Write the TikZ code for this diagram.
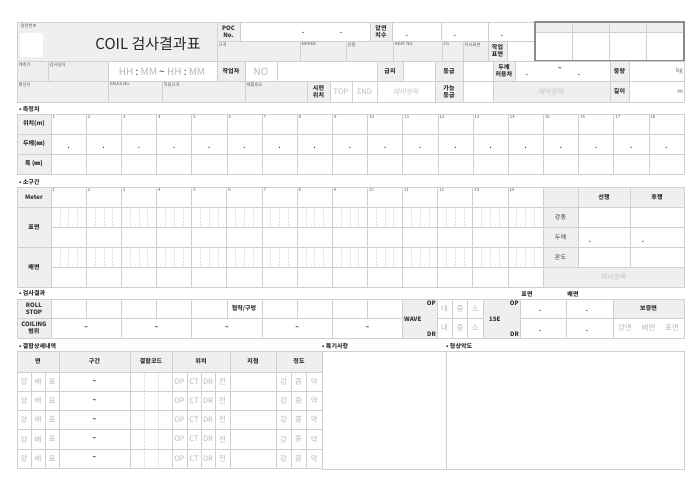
\documentclass[tikz,border=0pt]{standalone}
\usepackage{fontspec}
\setmainfont{Noto Sans CJK KR}
\newfontfamily\slkr[FakeSlant=0.2]{Noto Sans CJK KR}
\definecolor{ln}{HTML}{D0D0D0}
\definecolor{lnl}{HTML}{E2E2E2}
\definecolor{gf}{HTML}{EFEFEF}
\definecolor{dk}{HTML}{333333}
\definecolor{lt}{HTML}{B8B8B8}
\definecolor{bx}{HTML}{8A8A8A}
\newcounter{nn}
\newcommand\G[4]{\fill[gf] (#1,#2) rectangle (#3,#4);}
\newcommand\R[4]{\draw[ln,line width=0.6pt] (#1,#2) rectangle (#3,#4);}
\newcommand\GR[4]{\G{#1}{#2}{#3}{#4}\R{#1}{#2}{#3}{#4}}
\newcommand\T[4][]{\stepcounter{nn}\node[tx,#1] (n\arabic{nn}) at ({#2},{#3}) {#4};}
\newcommand\lbl[3]{\T[anchor=north west,font=\fontsize{4.3}{5}\selectfont,text=black!65]{#1+1.5}{#2+1.5}{#3}}
\tikzset{
  tx/.style={inner sep=0pt,text=dk,align=center,font=\fontsize{6}{7}\selectfont},
  bl/.style={font=\bfseries\fontsize{6}{7}\selectfont},
  lightt/.style={text=lt,font=\fontsize{7.5}{8}\selectfont},
  sl/.style={text=lt!80,font=\slkr\fontsize{7}{8}\selectfont},
  sec/.style={anchor=west,font=\bfseries\fontsize{6}{7}\selectfont},
  dotl/.style={lnl,line width=0.4pt,densely dotted}
}
\begin{document}
\begin{tikzpicture}[x=1pt,y=-1pt]
\useasboundingbox (0,0) rectangle (700,495);
\fill[white] (0,0) rectangle (700,495);
% ---------- header row 1/2
\G{17}{22}{217}{61}
\fill[white] (20,33) rectangle (43,57);
\R{17}{22}{217}{61}
\GR{217}{22}{240}{41}
\R{240}{22}{370}{41}
\GR{370}{22}{392}{41}
\R{392}{22}{441}{41}\R{441}{22}{488}{41}\R{488}{22}{535}{41}
\GR{217}{41}{300}{61}\GR{300}{41}{346}{61}\GR{346}{41}{393}{61}\GR{393}{41}{442}{61}
\GR{442}{41}{463}{61}\GR{463}{41}{488}{61}\GR{488}{41}{507}{61}\R{507}{41}{535}{61}
% right box
\G{535}{22}{684}{32}
\draw[ln,line width=0.6pt] (535,32) -- (684,32);
\foreach \xx in {572,609,646} {\draw[ln,line width=0.6pt] (\xx,22) -- (\xx,61);}
\draw[bx,line width=1.1pt] (535,22) rectangle (684,61);
% row 3
\GR{17}{61}{48}{81}\GR{48}{61}{108}{81}\R{108}{61}{217}{81}\GR{217}{61}{245}{81}
\R{245}{61}{277}{81}\R{277}{61}{377}{81}\GR{377}{61}{403}{81}\R{403}{61}{435}{81}
\GR{435}{61}{463}{81}\R{463}{61}{493}{81}\GR{493}{61}{515}{81}\R{515}{61}{610}{81}
\GR{610}{61}{629}{81}\R{629}{61}{684}{81}
% row 4
\GR{17}{81}{108}{102}\GR{108}{81}{162}{102}\GR{162}{81}{245}{102}\GR{245}{81}{307}{102}
\GR{307}{81}{330}{102}\R{330}{81}{352}{102}\R{352}{81}{377}{102}\R{377}{81}{435}{102}
\GR{435}{81}{463}{102}\R{463}{81}{493}{102}\GR{493}{81}{610}{102}\GR{610}{81}{629}{102}
\R{629}{81}{684}{102}
% header texts
\lbl{19}{22}{일련번호}
\T[font=\fontsize{15}{18}\selectfont,text=black!85]{148}{44}{COIL 검사결과표}
\T[bl]{228.5}{31.5}{POC\\No.}
\T[bl]{303}{33}{-}\T[bl]{341}{33}{-}
\T[bl]{381}{31.5}{압연\\치수}
\T[bl]{407}{36}{.}\T[bl]{455}{36}{.}\T[bl]{502}{36}{.}
\lbl{217}{41}{규격}\lbl{300}{41}{MAKER}\lbl{346}{41}{강종}\lbl{393}{41}{HEAT NO.}
\lbl{442}{41}{CG}\lbl{463}{41}{지시표면}
\T[bl]{497.5}{51}{작업\\표면}
\lbl{17}{61}{계측기}\lbl{48}{61}{검사일자}
\T[text=lt,font=\fontsize{10}{12}\selectfont]{162}{71.5}{HH \textcolor{dk}{:} MM \textcolor{dk}{\textasciitilde} HH \textcolor{dk}{:} MM}
\T[bl]{231}{71}{작업자}
\T[text=lt,font=\fontsize{10}{12}\selectfont]{261}{71.5}{NO}
\T[bl]{390}{71}{급지}
\T[bl]{449}{71}{등급}
\T[bl]{504}{71}{두께\\허용차}
\T[bl]{527}{75}{.}\T[bl]{560}{69}{\textasciitilde}\T[bl]{579}{75}{.}
\T[bl]{619.5}{71}{중량}
\T[anchor=east,text=black!60]{683}{71}{kg}
\lbl{17}{81}{행선지}\lbl{108}{81}{SALES No.}\lbl{162}{81}{적용규격}\lbl{245}{81}{제품용도}
\T[bl]{318.5}{91.5}{시편\\위치}
\T[lightt]{341}{91.5}{TOP}\T[lightt]{364.5}{91.5}{END}
\T[sl]{406}{91.5}{예비항목}
\T[bl]{449}{91.5}{가능\\등급}
\T[sl]{551}{91.5}{예비항목}
\T[bl]{619.5}{91.5}{길이}
\T[anchor=east,text=black!60]{683}{91.5}{m}
% ---------- 측정치
\T[sec]{19}{109}{• 측정치}
\GR{17}{114}{51}{134}\GR{17}{134}{51}{154}\GR{17}{154}{51}{174}
\T[bl]{34}{124}{위치(m)}\T[bl]{34}{144}{두께(㎜)}\T[bl]{34}{164}{폭 (㎜)}
\foreach \i in {0,...,17} {
  \pgfmathsetmacro\xa{51+35.1667*\i}
  \pgfmathsetmacro\xb{\xa+35.1667}
  \pgfmathtruncatemacro\k{\i+1}
  \R{\xa}{114}{\xb}{134}\R{\xa}{134}{\xb}{154}\R{\xa}{154}{\xb}{174}
  \lbl{\xa}{114}{\k}
  \T[bl]{\xa+17.6}{148}{.}
}
% ---------- 소구간
\T[sec]{19}{182}{• 소구간}
\GR{17}{187}{51}{207}\GR{17}{207}{51}{247}\GR{17}{247}{51}{287}
\T[bl]{34}{197}{Meter}\T[bl]{34}{227}{표면}\T[bl]{34}{267}{배면}
\foreach \i in {0,...,13} {
  \pgfmathsetmacro\xa{51+35.1429*\i}
  \pgfmathsetmacro\xb{\xa+35.1429}
  \pgfmathtruncatemacro\k{\i+1}
  \foreach \q in {1,2,3} {
    \pgfmathsetmacro\xq{\xa+8.7857*\q}
    \draw[dotl] (\xq,207) -- (\xq,227);
    \draw[dotl] (\xq,247) -- (\xq,267);
  }
  \R{\xa}{187}{\xb}{207}\R{\xa}{207}{\xb}{227}\R{\xa}{227}{\xb}{247}
  \R{\xa}{247}{\xb}{267}\R{\xa}{267}{\xb}{287}
  \lbl{\xa}{187}{\k}
}
\GR{543}{187}{578}{207}\GR{578}{187}{630}{207}\GR{630}{187}{684}{207}
\GR{543}{207}{578}{227}\R{578}{207}{630}{227}\R{630}{207}{684}{227}
\GR{543}{227}{578}{247}\R{578}{227}{630}{247}\R{630}{227}{684}{247}
\GR{543}{247}{578}{267}\R{578}{247}{630}{267}\R{630}{247}{684}{267}
\GR{543}{267}{684}{287}
\T[bl]{604}{197}{선행}\T[bl]{657}{197}{후행}
\T{560.5}{217}{강종}\T{560.5}{237}{두께}\T{560.5}{257}{온도}
\T[bl]{590}{242}{.}\T[bl]{643}{242}{.}
\T[sl]{613.5}{277}{예비항목}
% ---------- 검사결과
\T[sec]{19}{293}{• 검사결과}
\T[bl]{527}{294.5}{표면}\T[bl]{573}{294.5}{배면}
\GR{17}{299}{51}{318}\GR{17}{318}{51}{338}
\T[bl]{34}{308.5}{ROLL\\STOP}\T[bl]{34}{328}{COILING\\범위}
\foreach \i in {0,...,9} {
  \pgfmathsetmacro\xa{51+35.1667*\i}
  \pgfmathsetmacro\xb{\xa+35.1667}
  \R{\xa}{299}{\xb}{318}
}
\T[bl]{244}{308.5}{협착/구멍}
\foreach \j in {0,...,4} {
  \pgfmathsetmacro\xa{51+70.3333*\j}
  \pgfmathsetmacro\xb{\xa+70.3333}
  \R{\xa}{318}{\xb}{338}
  \T[bl]{\xa+35.2}{328}{\textasciitilde}
}
\GR{402}{299}{437}{338}
\T[bl,anchor=east]{436}{303.5}{OP}\T[bl,anchor=west]{404}{319}{WAVE}\T[bl,anchor=east]{436}{334}{DR}
\foreach \a/\b/\c in {437/452.3/대,452.3/467.7/중,467.7/483/소} {
  \R{\a}{299}{\b}{318}\R{\a}{318}{\b}{338}
  \T[lightt]{(\a+\b)/2}{308.5}{\c}\T[lightt]{(\a+\b)/2}{328}{\c}
}
\GR{483}{299}{520}{338}
\T[bl,anchor=east]{519}{303.5}{OP}\T[bl,anchor=west]{489}{319}{1SE}\T[bl,anchor=east]{519}{334}{DR}
\R{520}{299}{566}{318}\R{566}{299}{613}{318}\R{520}{318}{566}{338}\R{566}{318}{613}{338}
\T[bl]{540}{311}{.}\T[bl]{587}{311}{.}\T[bl]{540}{331}{.}\T[bl]{587}{331}{.}
\GR{613}{299}{684}{318}\R{613}{318}{684}{338}
\T[bl]{648.5}{308.5}{보증면}
\T[lightt]{625}{328}{양면}\T[lightt]{648.5}{328}{배면}\T[lightt]{672}{328}{표면}
% ---------- 결함상세내역
\T[sec]{19}{346}{• 결함상세내역}
\T[sec]{322}{346}{• 특기사항}
\T[sec]{446}{346}{• 형상악도}
\GR{17}{351}{59}{372}\GR{59}{351}{130}{372}\GR{130}{351}{172}{372}
\GR{172}{351}{230}{372}\GR{230}{351}{276}{372}\GR{276}{351}{322}{372}
\T[bl]{38}{361.5}{면}\T[bl]{94.5}{361.5}{구간}\T[bl]{151}{361.5}{결함코드}
\T[bl]{201}{361.5}{위치}\T[bl]{253}{361.5}{지점}\T[bl]{299}{361.5}{정도}
\foreach \r in {0,...,4} {
  \pgfmathsetmacro\ya{372+19.2*\r}
  \pgfmathsetmacro\yb{\ya+19.2}
  \pgfmathsetmacro\ym{\ya+9.6}
  \draw[dotl] (144,\ya) -- (144,\yb);
  \draw[dotl] (158,\ya) -- (158,\yb);
  \foreach \a/\b/\c in {17/31/양,31/45/배,45/59/표,172/187/OP,187/201/CT,201/215/DR,215/230/전,276/291/강,291/306/중,306/322/약} {
    \R{\a}{\ya}{\b}{\yb}
    \T[lightt]{(\a+\b)/2}{\ym}{\c}
  }
  \R{59}{\ya}{130}{\yb}\R{130}{\ya}{172}{\yb}\R{230}{\ya}{276}{\yb}
  \T[bl]{94.5}{\ym}{\textasciitilde}
}
\R{322}{351}{446}{469}
\R{446}{351}{684}{469}
\end{tikzpicture}
\end{document}
